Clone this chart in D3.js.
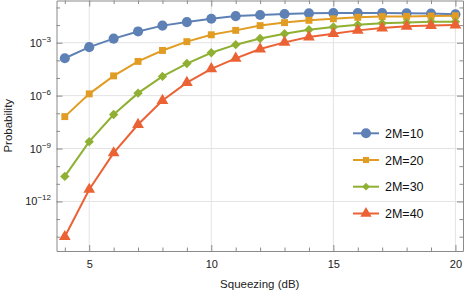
<!DOCTYPE html>
<html><head><meta charset="utf-8">
<script src="https://cdn.jsdelivr.net/npm/d3@7"></script>
<style>body{margin:0;background:#fff}svg{display:block}text{font-family:"Liberation Sans",Arial,sans-serif}</style>
</head><body>
<svg id="c" width="469" height="294"></svg>
<script>
const squeezing = [4,5,6,7,8,9,10,11,12,13,14,15,16,17,18,19,20];
// log10 of probability
const s10 = [-3.88,-3.25,-2.77,-2.36,-2.03,-1.83,-1.64,-1.49,-1.43,-1.37,-1.33,-1.32,-1.32,-1.32,-1.33,-1.35,-1.39];
const s20 = [-7.19,-5.90,-4.88,-4.06,-3.44,-2.94,-2.55,-2.30,-2.03,-1.86,-1.73,-1.64,-1.56,-1.52,-1.51,-1.49,-1.47];
const s30 = [-10.58,-8.61,-7.07,-5.86,-4.91,-4.18,-3.57,-3.11,-2.76,-2.49,-2.26,-2.11,-1.98,-1.90,-1.85,-1.81,-1.81];
const s40 = [-14.0,-11.32,-9.25,-7.64,-6.28,-5.26,-4.48,-3.89,-3.36,-2.98,-2.68,-2.49,-2.30,-2.17,-2.07,-2.03,-2.00];
const seriesNames = ["2M=10","2M=20","2M=30","2M=40"];
const xTickLabels = [5,10,15,20];
const yTickLabels = [-3,-6,-9,-12];

const colors = ["#5E81B5","#E19C24","#8FB032","#EB6235"];
const symbols = [d3.symbolCircle, d3.symbolSquare, d3.symbolSquare, d3.symbolTriangle];
const rotations = [0, 0, 45, 0];
const symSizes = [80, 48, 44, 60];
const allSeries = [s10,s20,s30,s40];

const svg = d3.select("#c");
const L = 56.5, R = 463, T = 0.5, B = 251;
const x = d3.scaleLinear().domain([3.66, 20.31]).range([L, R]);
const y = d3.scaleLog().domain([Math.pow(10,-14.81), Math.pow(10,-0.606)]).range([B, T]);

// grid
const g = svg.append("g");
g.selectAll(".vg").data(xTickLabels).enter().append("line")
  .attr("x1", d=>x(d)).attr("x2", d=>x(d)).attr("y1", T).attr("y2", B)
  .attr("stroke", "#e3e3e3").attr("stroke-width", 1);
g.selectAll(".hg").data(yTickLabels).enter().append("line")
  .attr("y1", d=>y(Math.pow(10,d))).attr("y2", d=>y(Math.pow(10,d))).attr("x1", L).attr("x2", R)
  .attr("stroke", "#e3e3e3").attr("stroke-width", 1);

// axes via d3
const frameColor = "#8a8a8a";
const xMinor = d3.range(4, 21);
const yMinor = d3.range(-14, 0).map(e=>Math.pow(10,e));
function styleAxis(sel){
  sel.select(".domain").attr("stroke", frameColor);
  sel.selectAll(".tick line").attr("stroke", frameColor);
  sel.selectAll(".tick text").attr("fill","#222").style("font-size","11px").style("font-family",'"Liberation Sans",Arial,sans-serif');
}
// bottom
const xb = svg.append("g").attr("transform",`translate(0,${B})`)
  .call(d3.axisBottom(x).tickValues(xMinor).tickSizeInner(-4).tickSizeOuter(0).tickPadding(9)
    .tickFormat(d=> xTickLabels.includes(d) ? d : ""));
styleAxis(xb);
xb.selectAll(".tick line").attr("y2", d=> xTickLabels.includes(d) ? -6 : -3.5);
// top
const xt = svg.append("g").attr("transform",`translate(0,${T})`)
  .call(d3.axisTop(x).tickValues(xMinor).tickSizeInner(-4).tickSizeOuter(0).tickFormat(""));
styleAxis(xt);
xt.selectAll(".tick line").attr("y2", d=> xTickLabels.includes(d) ? 6 : 3.5);
// left
const yl = svg.append("g").attr("transform",`translate(${L},0)`)
  .call(d3.axisLeft(y).tickValues(yMinor).tickSizeInner(-4).tickSizeOuter(0).tickFormat(""));
styleAxis(yl);
yl.selectAll(".tick line").attr("x2", d=> yTickLabels.includes(Math.round(Math.log10(d))) ? 6 : 3.5);
// right
const yr = svg.append("g").attr("transform",`translate(${R},0)`)
  .call(d3.axisRight(y).tickValues(yMinor).tickSizeInner(-4).tickSizeOuter(0).tickFormat(""));
styleAxis(yr);
yr.selectAll(".tick line").attr("x2", d=> yTickLabels.includes(Math.round(Math.log10(d))) ? -6 : -3.5);

// y tick labels with superscripts
yTickLabels.forEach(e=>{
  const t = svg.append("text").attr("x", 51).attr("y", y(Math.pow(10,e))+4)
    .attr("text-anchor","end").attr("fill","#222").style("font-size","11px");
  t.append("tspan").text("10");
  t.append("tspan").attr("dy",-5).style("font-size","8px").text("\u2212"+Math.abs(e));
});

// lines & markers
const line = d3.line().x((d,i)=>x(squeezing[i])).y(d=>y(Math.pow(10,d)));
allSeries.forEach((s,k)=>{
  svg.append("path").datum(s).attr("d", line).attr("fill","none")
    .attr("stroke", colors[k]).attr("stroke-width", 2);
  svg.selectAll(".m"+k).data(s).enter().append("path")
    .attr("transform",(d,i)=>`translate(${x(squeezing[i])},${y(Math.pow(10,d))}) rotate(${rotations[k]})`)
    .attr("d", d3.symbol().type(symbols[k]).size(symSizes[k]))
    .attr("fill", colors[k]);
});

// legend
const legY = [133.3, 160, 186.7, 213.5];
const legSizes = [80, 38, 30, 55];
seriesNames.forEach((n,k)=>{
  const gy = legY[k];
  svg.append("line").attr("x1",353).attr("x2",379).attr("y1",gy).attr("y2",gy)
    .attr("stroke",colors[k]).attr("stroke-width",2);
  svg.append("path").attr("transform",`translate(366,${gy}) rotate(${rotations[k]})`)
    .attr("d", d3.symbol().type(symbols[k]).size(legSizes[k])).attr("fill",colors[k]);
  svg.append("text").attr("x",385).attr("y",gy+4.5).attr("fill","#111")
    .style("font-size","12.5px").text(n);
});

// axis titles
svg.append("text").attr("x",(L+R)/2).attr("y",287.5).attr("text-anchor","middle")
  .attr("fill","#222").style("font-size","11.5px").text("Squeezing (dB)");
svg.append("text").attr("transform",`translate(12,${(T+B)/2}) rotate(-90)`).attr("text-anchor","middle")
  .attr("fill","#222").style("font-size","11.5px").text("Probability");
</script>
</body></html>
